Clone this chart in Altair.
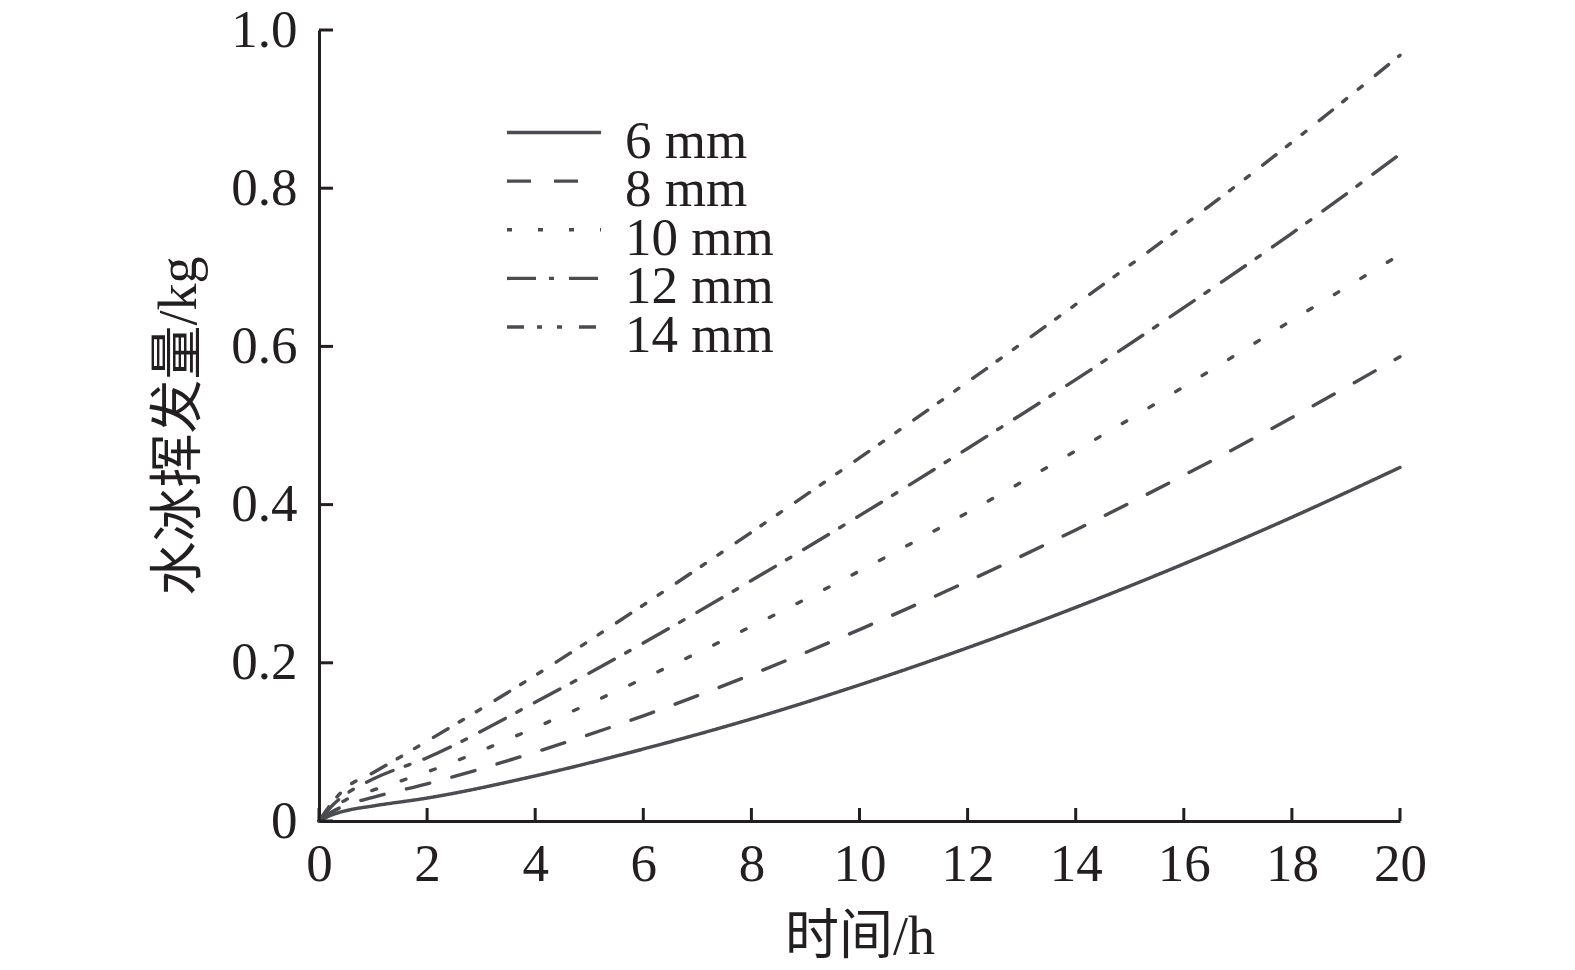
import altair as alt
import pandas as pd

# ---- data ----
time_h = [0, 0.25, 0.5, 1, 2, 4, 6, 8, 10, 12, 14, 16, 18, 20]
series_names = ["6 mm", "8 mm", "10 mm", "12 mm", "14 mm"]
mm6 = [0, 0.008, 0.013, 0.019, 0.029, 0.057, 0.091, 0.129, 0.172, 0.219, 0.270, 0.325, 0.384, 0.447]
mm8 = [0, 0.012, 0.020, 0.030, 0.047, 0.087, 0.133, 0.185, 0.242, 0.303, 0.368, 0.437, 0.510, 0.587]
mm10 = [0, 0.016, 0.027, 0.039, 0.062, 0.118, 0.180, 0.246, 0.316, 0.390, 0.468, 0.549, 0.633, 0.716]
mm12 = [0, 0.020, 0.034, 0.053, 0.080, 0.150, 0.225, 0.304, 0.386, 0.471, 0.558, 0.649, 0.743, 0.843]
mm14 = [0, 0.024, 0.042, 0.061, 0.101, 0.184, 0.273, 0.365, 0.459, 0.555, 0.653, 0.753, 0.858, 0.968]
x_tick_values = [0, 2, 4, 6, 8, 10, 12, 14, 16, 18, 20]
y_tick_values = [0, 0.2, 0.4, 0.6, 0.8, 1.0]
x_title = "时间/h"
y_title = "水冰挥发量/kg"

rows = []
for name, vals in zip(series_names, [mm6, mm8, mm10, mm12, mm14]):
    for t, v in zip(time_h, vals):
        rows.append({"t": t, "v": v, "s": name})
df = pd.DataFrame(rows)
legend_df = pd.DataFrame({"s": series_names})

# ---- style ----
W, H = 1081, 791
LINE = "#4b4c51"
AX = "#231f20"
FONT = "Liberation Serif, Noto Sans CJK SC, serif"
dashes = [[1, 0], [24, 23], [5, 26], [29, 13, 5, 15], [17, 13, 5, 15, 5, 17]]
LDY = 9  # vertical nudge of axis labels

xs = alt.Scale(domain=[0, 20], nice=False, zero=False)
ys = alt.Scale(domain=[0, 1], nice=False, zero=False)
dash_scale = alt.Scale(domain=series_names, range=dashes)
# legend rows (inside the plot, top-left area)
ly = alt.Scale(type="point", domain=series_names, range=[102.5, 297], padding=0)

x_axis = alt.Axis(values=x_tick_values, format="d", title=x_title, tickSize=0,
                  labelPadding=17 - LDY, titlePadding=19, grid=False, labelFlush=False,
                  labelOverlap=False)
y_axis = alt.Axis(values=y_tick_values, title=y_title, tickSize=0,
                  labelExpr="datum.value == 0 ? '0' : format(datum.value, '.1f')",
                  labelPadding=22, titlePadding=24, grid=False, labelFlush=False,
                  labelOffset=-LDY, labelOverlap=False)

lines = alt.Chart(df).mark_line(
    strokeWidth=3.4, color=LINE, strokeCap="round", interpolate="monotone"
).encode(
    x=alt.X("t:Q", scale=xs, axis=x_axis),
    y=alt.Y("v:Q", scale=ys, axis=y_axis),
    strokeDash=alt.StrokeDash("s:N", scale=dash_scale, legend=None),
)

xt = alt.Chart(pd.DataFrame({"t": x_tick_values})).mark_rule(color=AX, strokeWidth=3).encode(
    x=alt.X("t:Q", scale=xs, axis=x_axis), y=alt.value(H), y2=alt.value(H - 13))
yt = alt.Chart(pd.DataFrame({"v": y_tick_values})).mark_rule(color=AX, strokeWidth=3).encode(
    y=alt.Y("v:Q", scale=ys, axis=None), x=alt.value(0), x2=alt.value(14))

leg_sym = alt.Chart(legend_df).mark_rule(color=LINE, strokeWidth=3.4).encode(
    y=alt.Y("s:N", scale=ly, axis=None),
    x=alt.value(188), x2=alt.value(282),
    strokeDash=alt.StrokeDash("s:N", scale=dash_scale, legend=None),
)
leg_txt = alt.Chart(legend_df).mark_text(
    align="left", baseline="alphabetic", dy=25, font=FONT, fontSize=53, color=AX
).encode(
    y=alt.Y("s:N", scale=ly, axis=None),
    x=alt.value(306),
    text="s:N",
)

chart = alt.layer(lines, xt, yt, leg_sym, leg_txt).resolve_scale(
    y="independent"
).properties(
    width=W, height=H,
    autosize=alt.AutoSizeParams(type="none"),
    padding={"left": 311, "top": 22, "right": 100, "bottom": 140},
    background="white",
).configure(
    style={"guide-label": {"dy": LDY}}
).configure_view(stroke=None).configure_axis(
    domainColor=AX, domainWidth=3, labelFont=FONT, titleFont=FONT,
    labelFontSize=53, titleFontSize=54, labelColor=AX, titleColor=AX,
    titleFontWeight="normal",
)

chart.save("out.html", embed_options={"renderer": "svg", "actions": False})
